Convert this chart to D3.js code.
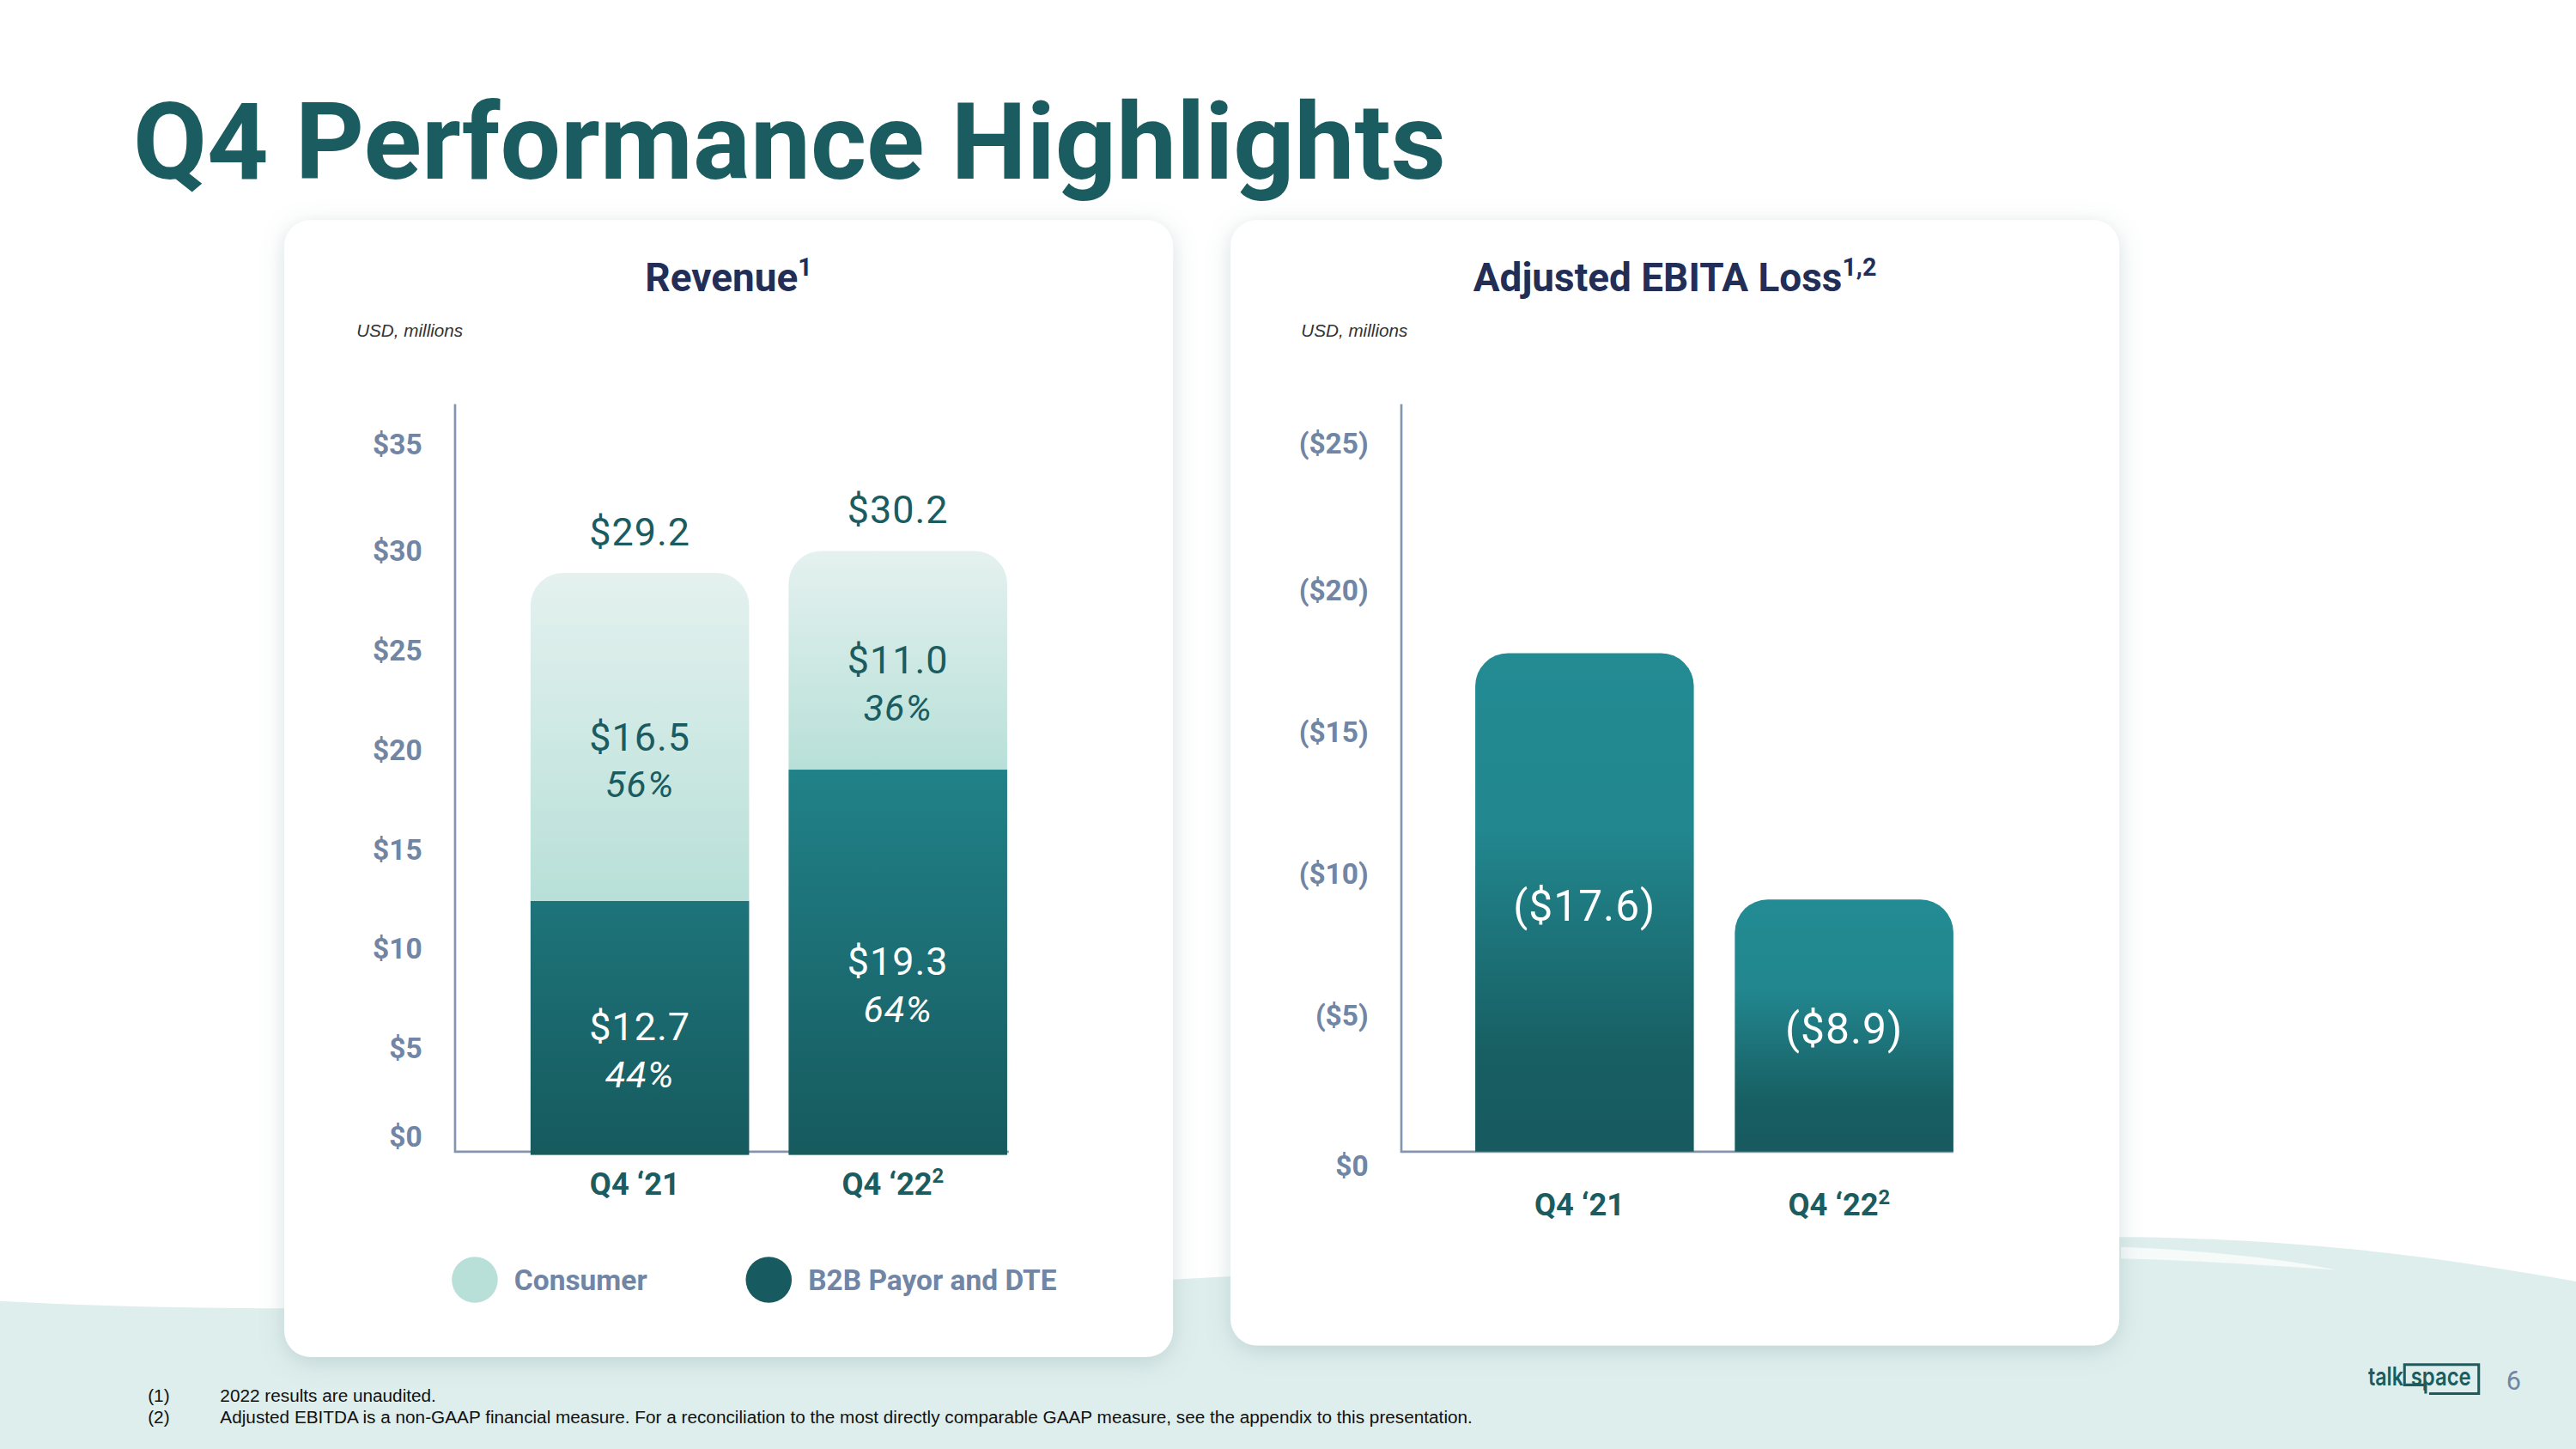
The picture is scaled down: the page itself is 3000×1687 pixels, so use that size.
<!DOCTYPE html>
<html>
<head>
<meta charset="utf-8">
<script src="https://cdn.jsdelivr.net/npm/d3@7"></script>
<style>
  html, body { margin: 0; padding: 0; background: #fff; }
  svg { display: block; }
  text { font-family: Roboto, "Noto Sans", sans-serif; }
  text.arial { font-family: "Liberation Sans", Arial, sans-serif; }
  text.logo { font-family: Inter, Lato, sans-serif; }
</style>
</head>
<body>
<svg id="slide"></svg>
<script>
// ---- data ----
const quarters = ['Q4 \u201821', 'Q4 \u201822'];
const quarterNotes = ['', '2'];
const b2b = [12.7, 19.3];
const consumer = [16.5, 11.0];
const totals = [29.2, 30.2];
const b2bShare = ['44%', '64%'];
const consumerShare = ['56%', '36%'];
const revenueTicks = [0, 5, 10, 15, 20, 25, 30, 35];
const ebitdaLoss = [17.6, 8.9];
const ebitdaTicks = [0, 5, 10, 15, 20, 25];
const legendItems = ['Consumer', 'B2B Payor and DTE'];
const footnoteMarks = ['(1)', '(2)'];
const footnotes = [
    '2022 results are unaudited.',
    'Adjusted EBITDA is a non-GAAP financial measure. For a reconciliation to the most directly comparable GAAP measure, see the appendix to this presentation.',
];

// ---- styles ----
const teal = '#1a5c60';
const slate = '#7185a4';
const navy = '#232e57';
const axisColor = '#8396b0';
const legendColors = ['#b9e0d8', '#175a5f'];

const W = 1568;
const H = 882;
const svg = d3.select('#slide')
    .attr('width', 3000)
    .attr('height', 1687)
    .attr('viewBox', `0 0 ${W} ${H}`)
    .attr('preserveAspectRatio', 'none');

const defs = svg.append('defs');

function gradient(id, stops, attrs = {}) {
    const g = defs.append('linearGradient').attr('id', id)
        .attr('x1', 0).attr('y1', 0).attr('x2', 0).attr('y2', 1);
    Object.entries(attrs).forEach(([k, v]) => g.attr(k, v));
    g.selectAll('stop').data(stops).join('stop')
        .attr('offset', (d) => d[0])
        .attr('stop-color', (d) => d[1]);
}

gradient('consumerGrad', [[0, '#e4f1ef'], [1, '#b8e0d8']]);
gradient('ebitdaGrad', [[0, '#238b93'], [0.35, '#22878f'], [0.8, '#175f63'], [1, '#175a5f']]);

const shadow = defs.append('filter').attr('id', 'shadow')
    .attr('x', '-10%').attr('y', '-10%').attr('width', '120%').attr('height', '125%');
shadow.append('feDropShadow')
    .attr('dx', 0).attr('dy', 3).attr('stdDeviation', 7)
    .attr('flood-color', '#6f8f94').attr('flood-opacity', 0.28);

// ---- background ----
svg.append('rect').attr('width', W).attr('height', H).attr('fill', '#fff');
svg.append('path')
    .attr('d', 'M0,792 C200,803 480,792 730,778 C1000,763 1200,752 1300,753 C1420,755 1500,768 1568,780 L1568,882 L0,882 Z')
    .attr('fill', '#deeeec');
svg.append('path')
    .attr('d', 'M1291,759 C1340,761 1390,766 1422,773 C1380,770 1330,767 1291,766 Z')
    .attr('fill', '#f6fbfa');

// ---- title ----
svg.append('text')
    .attr('x', 81).attr('y', 109)
    .attr('fill', teal)
    .style('font-weight', 'bold')
    .style('font-size', '65.3px')
    .text('Q4 Performance Highlights');

// ---- cards ----
const cards = [
    { x: 173, y: 134, w: 541, h: 692 },
    { x: 749, y: 134, w: 541, h: 685 },
];
svg.selectAll('rect.card').data(cards).join('rect')
    .attr('class', 'card')
    .attr('x', (d) => d.x).attr('y', (d) => d.y)
    .attr('width', (d) => d.w).attr('height', (d) => d.h)
    .attr('rx', 16)
    .attr('fill', '#fff')
    .attr('filter', 'url(#shadow)');

function chartTitle(cx, label, note) {
    const t = svg.append('text')
        .attr('x', cx).attr('y', 177)
        .attr('text-anchor', 'middle')
        .attr('fill', navy)
        .style('font-weight', 'bold')
        .style('font-size', '24px');
    t.append('tspan').text(label);
    t.append('tspan').attr('dy', -9).style('font-size', '15px').text(note);
}

function unitLabel(x) {
    svg.append('text')
        .attr('class', 'arial')
        .attr('x', x).attr('y', 205)
        .attr('fill', '#333')
        .style('font-style', 'italic')
        .style('font-size', '10.8px')
        .text('USD, millions');
}

function topRounded(x, y, w, h, r) {
    return `M${x},${y + h}V${y + r}A${r},${r} 0 0 1 ${x + r},${y}H${x + w - r}A${r},${r} 0 0 1 ${x + w},${y + r}V${y + h}Z`;
}

function quarterLabels(g, xs, y) {
    const t = g.selectAll('text.q').data(quarters).join('text')
        .attr('class', 'q')
        .attr('x', (d) => xs(d) + xs.bandwidth() / 2 - 3)
        .attr('y', y)
        .attr('text-anchor', 'middle')
        .attr('fill', teal)
        .style('font-weight', 'bold')
        .style('font-size', '19px');
    t.append('tspan').text((d) => d);
    t.append('tspan').attr('dy', -7).style('font-size', '12.5px').text((d, i) => quarterNotes[i]);
}

function styleAxis(axisG) {
    axisG.select('.domain').remove();
    axisG.selectAll('line').remove();
    axisG.selectAll('text')
        .attr('fill', slate)
        .style('font-family', 'Roboto, sans-serif')
        .style('font-weight', 'bold')
        .style('font-size', '17.5px');
}

// ---- revenue chart ----
chartTitle(443.5, 'Revenue', '1');
unitLabel(217);

const rev = svg.append('g');
const rx = d3.scaleBand().domain(quarters).range([311, 625]).paddingInner(0.153).paddingOuter(0.076);
const ry = d3.scaleLinear().domain([0, 35]).range([702, 278.5]);

rev.append('path')
    .attr('d', `M277,246V${ry(0) - 1}H614`)
    .attr('fill', 'none')
    .attr('stroke', axisColor)
    .attr('stroke-width', 1.4);

const revAxis = rev.append('g')
    .attr('transform', 'translate(277,0)')
    .call(d3.axisLeft(ry).tickValues(revenueTicks).tickSize(0).tickPadding(20).tickFormat((d) => `$${d}`));
styleAxis(revAxis);
revAxis.selectAll('text').attr('dy', (d) => (d === 0 ? '-0.25em' : d === 35 ? '-0.15em' : '0.12em'));

// B2B gradient spans the chart height, so the taller segment shows lighter teal
gradient('b2bGrad', [[0, '#21838a'], [1, '#165a5e']], {
    gradientUnits: 'userSpaceOnUse', x1: 0, x2: 0, y1: ry(20), y2: ry(0),
});

const revBars = rev.selectAll('g.bar').data(quarters).join('g').attr('class', 'bar');
revBars.append('rect')
    .attr('x', (d) => rx(d))
    .attr('y', (d, i) => ry(b2b[i]))
    .attr('width', rx.bandwidth())
    .attr('height', (d, i) => ry(0) - ry(b2b[i]) + 1)
    .attr('fill', 'url(#b2bGrad)');
revBars.append('path')
    .attr('d', (d, i) => {
        const top = ry(b2b[i] + consumer[i]);
        return topRounded(rx(d), top, rx.bandwidth(), ry(b2b[i]) - top, 20);
    })
    .attr('fill', 'url(#consumerGrad)');

revBars.each(function (d, i) {
    const g = d3.select(this);
    const cx = rx(d) + rx.bandwidth() / 2;
    const top = ry(b2b[i] + consumer[i]);
    const segs = [
        { mid: (ry(b2b[i]) + top) / 2, value: consumer[i], share: consumerShare[i], color: teal },
        { mid: (ry(0) + ry(b2b[i])) / 2, value: b2b[i], share: b2bShare[i], color: '#fff' },
    ];
    segs.forEach((s) => {
        g.append('text')
            .attr('x', cx).attr('y', s.mid)
            .attr('dy', '0.35em')
            .attr('text-anchor', 'middle')
            .attr('fill', s.color)
            .style('font-size', '23.5px')
            .style('letter-spacing', '0.5px')
            .text(`$${s.value.toFixed(1)}`);
        g.append('text')
            .attr('x', cx).attr('y', s.mid + 29)
            .attr('dy', '0.35em')
            .attr('text-anchor', 'middle')
            .attr('fill', s.color)
            .style('font-style', 'italic')
            .style('font-size', '22.5px')
            .style('letter-spacing', '0.5px')
            .text(s.share);
    });
    g.append('text')
        .attr('x', cx).attr('y', top - 25)
        .attr('dy', '0.35em')
        .attr('text-anchor', 'middle')
        .attr('fill', teal)
        .style('font-size', '23.5px')
        .style('letter-spacing', '0.5px')
        .text(`$${totals[i].toFixed(1)}`);
});

quarterLabels(rev, rx, 727);

// legend
const legend = svg.append('g').attr('transform', 'translate(289,779)');
let lx = 0;
legendItems.forEach((name, i) => {
    const g = legend.append('g').attr('transform', `translate(${lx},0)`);
    g.append('circle').attr('r', 14).attr('fill', legendColors[i]);
    const t = g.append('text')
        .attr('x', 24).attr('dy', '0.36em')
        .attr('fill', slate)
        .style('font-weight', 'bold')
        .style('font-size', '17.5px')
        .text(name);
    lx += 24 + t.node().getComputedTextLength() + 74;
});

// ---- adjusted EBITDA chart ----
chartTitle(1019.5, 'Adjusted EBITA Loss', '1,2');
unitLabel(792);

const eb = svg.append('g');
const ex = d3.scaleBand().domain(quarters).range([885.5, 1201.5]).paddingInner(0.158).paddingOuter(0.079);
const ey = d3.scaleLinear().domain([0, 25]).range([701, 270]);

eb.append('path')
    .attr('d', `M853,246V${ey(0)}H1189`)
    .attr('fill', 'none')
    .attr('stroke', axisColor)
    .attr('stroke-width', 1.4);

const ebAxis = eb.append('g')
    .attr('transform', 'translate(853,0)')
    .call(d3.axisLeft(ey).tickValues(ebitdaTicks).tickSize(0).tickPadding(20)
        .tickFormat((d) => (d === 0 ? '$0' : `($${d})`)));
styleAxis(ebAxis);
ebAxis.selectAll('text').attr('dy', (d) => (d === 0 ? '0.8em' : d === 25 ? '0.32em' : '0.5em'));

const ebBars = eb.selectAll('g.bar').data(quarters).join('g').attr('class', 'bar');
ebBars.append('path')
    .attr('d', (d, i) => topRounded(ex(d), ey(ebitdaLoss[i]), ex.bandwidth(), ey(0) - ey(ebitdaLoss[i]), 20))
    .attr('fill', 'url(#ebitdaGrad)');
ebBars.append('text')
    .attr('x', (d) => ex(d) + ex.bandwidth() / 2)
    .attr('y', (d, i) => (ey(ebitdaLoss[i]) + ey(0)) / 2 + 2)
    .attr('dy', '0.35em')
    .attr('text-anchor', 'middle')
    .attr('fill', '#fff')
    .style('font-size', '26px')
    .style('letter-spacing', '0.5px')
    .text((d, i) => `($${ebitdaLoss[i].toFixed(1)})`);

quarterLabels(eb, ex, 740);

// ---- footnotes ----
const notes = svg.append('g').attr('fill', '#111');
notes.selectAll('text.mark').data(footnoteMarks).join('text')
    .attr('class', 'arial mark')
    .attr('x', 90).attr('y', (d, i) => 853.5 + i * 13)
    .style('font-size', '10.85px')
    .text((d) => d);
notes.selectAll('text.note').data(footnotes).join('text')
    .attr('class', 'arial note')
    .attr('x', 134).attr('y', (d, i) => 853.5 + i * 13)
    .style('font-size', '10.85px')
    .text((d) => d);

// ---- logo + page number ----
const logo = svg.append('g').attr('fill', teal);
logo.selectAll('text').data([['talk', 1441.5, 21.4], ['space', 1467.5, 36.6]]).join('text')
    .attr('class', 'logo')
    .attr('x', (d) => d[1]).attr('y', 843.5)
    .attr('textLength', (d) => d[2]).attr('lengthAdjust', 'spacingAndGlyphs')
    .style('font-weight', 600)
    .style('font-size', '15.5px')
    .text((d) => d[0]);
logo.append('path')
    .attr('d', 'M1476.5,848.3V843H1463.6V830.6H1508.8V848.3H1478.6')
    .attr('fill', 'none')
    .attr('stroke', teal)
    .attr('stroke-width', 1.6);

svg.append('text')
    .attr('x', 1530).attr('y', 846)
    .attr('text-anchor', 'middle')
    .attr('fill', slate)
    .style('font-size', '16px')
    .text('6');
</script>
</body>
</html>
